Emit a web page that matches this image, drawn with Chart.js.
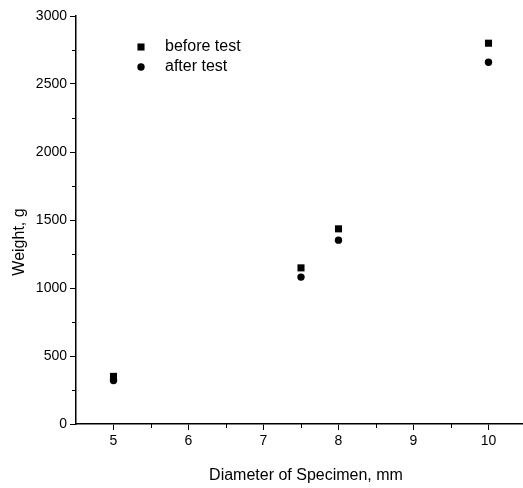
<!DOCTYPE html>
<html>
<head>
<meta charset="utf-8">
<script src="https://cdn.jsdelivr.net/npm/chart.js@4.4.1/dist/chart.umd.min.js"></script>
<style>
  html, body { margin: 0; padding: 0; background: #fff; }
  #wrap { width: 523px; height: 488px; }
</style>
</head>
<body>
<div id="wrap"><canvas id="chart1"></canvas></div>
<script>
// values
var diameters = [5, 7.5, 8, 10];
var beforeTest = [350, 1148, 1435, 2800];
var afterTest = [320, 1080, 1352, 2660];

var xTicks = [5, 6, 7, 8, 9, 10];
var xMinor = [5.5, 6.5, 7.5, 8.5, 9.5];
var yTicks = [0, 500, 1000, 1500, 2000, 2500, 3000];
var yMinor = [250, 750, 1250, 1750, 2250, 2750];

var FONT = '"Liberation Sans", Arial, sans-serif';

function toPoints(xs, ys) {
    var pts = [];
    for (var i = 0; i < xs.length; i++) {
        pts.push({ x: xs[i], y: ys[i] });
    }
    return pts;
}

function drawMarker(ctx, style, x, y, r) {
    ctx.beginPath();
    if (style === 'rect') {
        var s = r * Math.SQRT1_2;
        ctx.rect(x - s, y - s, 2 * s, 2 * s);
    } else {
        ctx.arc(x, y, r, 0, Math.PI * 2);
    }
    ctx.fill();
}

// short ticks between the labelled ones
var minorTicks = {
    id: 'minorTicks',
    afterDraw: function(chart) {
        var ctx = chart.ctx;
        var xs = chart.scales.x, ys = chart.scales.y;
        ctx.save();
        ctx.strokeStyle = '#000';
        ctx.lineWidth = 1;
        ctx.beginPath();
        for (var i = 0; i < xMinor.length; i++) {
            var px = Math.round(xs.getPixelForValue(xMinor[i])) + 0.5;
            ctx.moveTo(px, ys.bottom);
            ctx.lineTo(px, ys.bottom + 4);
        }
        for (var j = 0; j < yMinor.length; j++) {
            var py = Math.round(ys.getPixelForValue(yMinor[j])) + 0.5;
            ctx.moveTo(xs.left, py);
            ctx.lineTo(xs.left - 4, py);
        }
        ctx.stroke();
        ctx.restore();
    }
};

// axis titles, a bit off the centre as in the original
var axisTitles = {
    id: 'axisTitles',
    afterDraw: function(chart) {
        var ctx = chart.ctx;
        var a = chart.chartArea;
        ctx.save();
        ctx.fillStyle = '#000';
        ctx.font = '16px ' + FONT;
        ctx.textAlign = 'center';
        ctx.textBaseline = 'middle';
        ctx.fillText('Diameter of Specimen, mm', 306, a.bottom + 52);
        ctx.translate(a.left - 56, (a.top + a.bottom) / 2 + 22);
        ctx.rotate(-Math.PI / 2);
        ctx.fillText('Weight, g', 0, 0);
        ctx.restore();
    }
};

// legend sitting inside the plot
var insideLegend = {
    id: 'insideLegend',
    afterDraw: function(chart) {
        var ctx = chart.ctx;
        var a = chart.chartArea;
        var sets = chart.data.datasets;
        ctx.save();
        ctx.font = '16px ' + FONT;
        ctx.textAlign = 'left';
        ctx.textBaseline = 'middle';
        for (var i = 0; i < sets.length; i++) {
            var y = a.top + 31 + i * 20;
            ctx.fillStyle = '#000';
            drawMarker(ctx, sets[i].pointStyle, a.left + 65, y, sets[i].pointRadius);
            ctx.fillText(sets[i].label, a.left + 89, y);
        }
        ctx.restore();
    }
};

function plainLabel(value) {
    return String(value);
}

var config = {
    type: 'scatter',
    plugins: [minorTicks, axisTitles, insideLegend],
    data: {
        datasets: [{
            label: 'before test',
            data: toPoints(diameters, beforeTest),
            pointStyle: 'rect',
            pointRadius: 5,
            backgroundColor: '#000',
            borderColor: '#000',
            borderWidth: 0
        }, {
            label: 'after test',
            data: toPoints(diameters, afterTest),
            pointStyle: 'circle',
            pointRadius: 3.7,
            backgroundColor: '#000',
            borderColor: '#000',
            borderWidth: 0
        }]
    },
    options: {
        responsive: true,
        maintainAspectRatio: false,
        animation: false,
        layout: { autoPadding: false, padding: { top: 16, right: 0, left: 0, bottom: 0 } },
        plugins: {
            legend: { display: false },
            tooltip: { enabled: false }
        },
        scales: {
            x: {
                type: 'linear',
                min: 4.5,
                max: 10.46,
                afterBuildTicks: function(scale) {
                    scale.ticks = xTicks.map(function(v) { return { value: v }; });
                },
                afterFit: function(scale) { scale.height = 64; },
                grid: { drawOnChartArea: false, drawTicks: true, tickLength: 6, color: '#000', lineWidth: 1 },
                border: { display: true, color: '#000', width: 1.5 },
                ticks: { color: '#000', font: { family: FONT, size: 14 }, padding: 3, maxRotation: 0, callback: plainLabel }
            },
            y: {
                type: 'linear',
                min: 0,
                max: 3000,
                afterBuildTicks: function(scale) {
                    scale.ticks = yTicks.map(function(v) { return { value: v }; });
                },
                afterFit: function(scale) { scale.width = 76; },
                grid: { drawOnChartArea: false, drawTicks: true, tickLength: 6, color: '#000', lineWidth: 1 },
                border: { display: true, color: '#000', width: 1.5 },
                ticks: { color: '#000', font: { family: FONT, size: 14 }, padding: 3, callback: plainLabel }
            }
        }
    }
};

var ctx = document.getElementById('chart1').getContext('2d');
window.myChart = new Chart(ctx, config);
</script>
</body>
</html>
